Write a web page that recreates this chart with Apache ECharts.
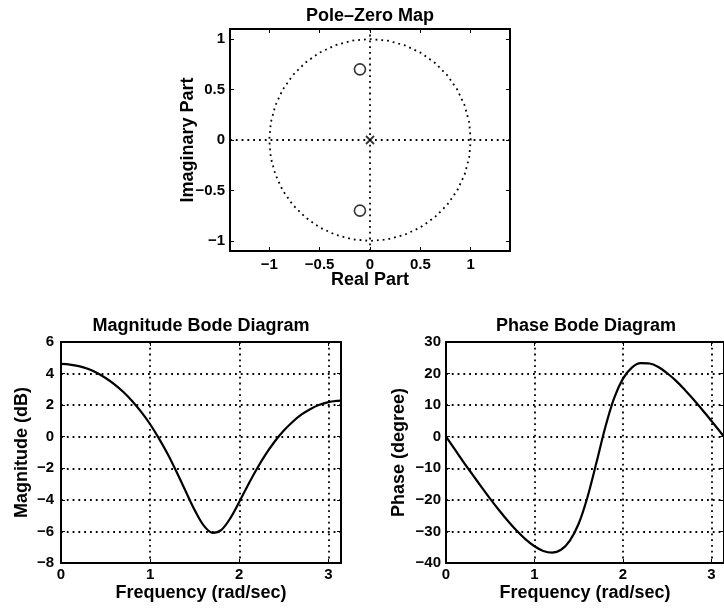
<!DOCTYPE html>
<html>
<head>
<meta charset="utf-8">
<script src="https://cdn.jsdelivr.net/npm/echarts@6/dist/echarts.min.js"></script>
<style>
html,body{margin:0;padding:0;background:#fff;}
#chart{width:724px;height:610px;}
</style>
</head>
<body>
<div id="chart"></div>
<script>
// ---- Data ----
const titles = ['Pole\u2013Zero Map', 'Magnitude Bode Diagram', 'Phase Bode Diagram'];
const xNames = ['Real Part', 'Frequency (rad/sec)', 'Frequency (rad/sec)'];
const yNames = ['Imaginary Part', 'Magnitude (dB)', 'Phase (degree)'];

const pzTicks = [-1, -0.5, 0, 0.5, 1];
const zerosRe = [-0.1, -0.1];
const zerosIm = [0.7, -0.7];
const polesRe = [0];
const polesIm = [0];
const unitCircleRe = [1, 0.9848, 0.9397, 0.866, 0.766, 0.6428, 0.5, 0.342, 0.1736, 0, -0.1736, -0.342, -0.5, -0.6428, -0.766, -0.866, -0.9397, -0.9848, -1, -0.9848, -0.9397, -0.866, -0.766, -0.6428, -0.5, -0.342, -0.1736, 0, 0.1736, 0.342, 0.5, 0.6428, 0.766, 0.866, 0.9397, 0.9848, 1];
const unitCircleIm = [0, 0.1736, 0.342, 0.5, 0.6428, 0.766, 0.866, 0.9397, 0.9848, 1, 0.9848, 0.9397, 0.866, 0.766, 0.6428, 0.5, 0.342, 0.1736, 0, -0.1736, -0.342, -0.5, -0.6428, -0.766, -0.866, -0.9397, -0.9848, -1, -0.9848, -0.9397, -0.866, -0.766, -0.6428, -0.5, -0.342, -0.1736, 0];

const freq = [0, 0.1, 0.2, 0.3, 0.4, 0.5, 0.6, 0.7, 0.8, 0.9, 1.0, 1.1, 1.2, 1.3, 1.4, 1.5, 1.6, 1.7, 1.8, 1.9, 2.0, 2.1, 2.2, 2.3, 2.4, 2.5, 2.6, 2.7, 2.8, 2.9, 3.0, 3.1, 3.1416];
const magnitudeDb = [4.61, 4.57, 4.47, 4.30, 4.05, 3.72, 3.32, 2.83, 2.25, 1.57, 0.79, -0.12, -1.13, -2.27, -3.47, -4.65, -5.62, -6.09, -5.90, -5.16, -4.13, -3.04, -2.01, -1.09, -0.29, 0.39, 0.95, 1.41, 1.76, 2.02, 2.19, 2.27, 2.28];
const phaseDeg = [0, -4.0, -8.1, -12.0, -15.9, -19.7, -23.3, -26.7, -29.8, -32.5, -34.7, -36.2, -36.7, -35.8, -32.9, -27.5, -19.0, -8.2, 3.0, 12.2, 18.4, 21.9, 23.3, 23.2, 22.1, 20.1, 17.7, 14.8, 11.7, 8.4, 5.0, 1.5, 0];

// ---- Layout ----
const FONT = "'Liberation Sans', Arial, Helvetica, sans-serif";
const grids = [
  {left: 230, top: 29, width: 280, height: 222},
  {left: 61, top: 342, width: 280, height: 221},
  {left: 446, top: 342, width: 280, height: 221}
];
const xRanges = [[-1.39, 1.39], [0, Math.PI], [0, Math.PI]];
const yRanges = [[-1.1, 1.1], [-8, 6], [-40, 30]];
const xIntervals = [null, 1, 1];
const yIntervals = [null, 2, 10];
const xLabelMargin = [6, 4, 4];
const yLabelMargin = [5, 7, 5];
const xNameGap = [20, 21, 21];
const yNameGap = [33, 29.5, 38];

const fmt = v => String(v).replace('-', '\u2212');
const dotted = {type: [1.8, 4], color: '#000', width: 1.8};

const xAxes = [], yAxes = [];
for (let i = 0; i < 3; i++) {
  const xa = {
    type: 'value', gridIndex: i, position: 'bottom',
    min: xRanges[i][0], max: xRanges[i][1],
    name: xNames[i], nameLocation: 'middle', nameGap: xNameGap[i], nameMoveOverlap: false,
    nameTextStyle: {fontFamily: FONT, fontWeight: 'bold', fontSize: 18, color: '#000'},
    axisLine: {show: true, onZero: false, lineStyle: {color: '#000', width: 2}},
    axisTick: {show: true, inside: true, length: 4, lineStyle: {color: '#000', width: 1}},
    axisLabel: {show: true, margin: xLabelMargin[i], fontFamily: FONT, fontWeight: 'bold', fontSize: 15, color: '#000', formatter: fmt, showMaxLabel: false},
    splitLine: {show: i > 0, lineStyle: dotted}
  };
  const ya = {
    type: 'value', gridIndex: i, position: 'left',
    min: yRanges[i][0], max: yRanges[i][1],
    name: yNames[i], nameLocation: 'middle', nameGap: yNameGap[i], nameMoveOverlap: false,
    nameTextStyle: {fontFamily: FONT, fontWeight: 'bold', fontSize: 18, color: '#000'},
    axisLine: {show: true, onZero: false, lineStyle: {color: '#000', width: 2}},
    axisTick: {show: true, inside: true, length: 4, lineStyle: {color: '#000', width: 1}},
    axisLabel: {show: true, margin: yLabelMargin[i], fontFamily: FONT, fontWeight: 'bold', fontSize: 15, color: '#000', formatter: fmt},
    splitLine: {show: i > 0, lineStyle: dotted}
  };
  if (xIntervals[i]) { xa.interval = xIntervals[i]; } else {
    xa.axisLabel.customValues = pzTicks; xa.axisTick.customValues = pzTicks; xa.axisLabel.showMaxLabel = true;
  }
  if (yIntervals[i]) { ya.interval = yIntervals[i]; } else {
    ya.axisLabel.customValues = pzTicks; ya.axisTick.customValues = pzTicks;
  }
  xAxes.push(xa); yAxes.push(ya);
}
// mirrored box axes (top / right) with inward ticks
for (let i = 0; i < 3; i++) {
  const xt = {
    type: 'value', gridIndex: i, position: 'top',
    min: xRanges[i][0], max: xRanges[i][1],
    axisLine: {show: true, onZero: false, lineStyle: {color: '#000', width: 2}},
    axisTick: {show: true, inside: true, length: 4, lineStyle: {color: '#000', width: 1}},
    axisLabel: {show: false}, splitLine: {show: false}
  };
  const yr = {
    type: 'value', gridIndex: i, position: 'right',
    min: yRanges[i][0], max: yRanges[i][1],
    axisLine: {show: true, onZero: false, lineStyle: {color: '#000', width: 2}},
    axisTick: {show: true, inside: true, length: 4, lineStyle: {color: '#000', width: 1}},
    axisLabel: {show: false}, splitLine: {show: false}
  };
  if (xIntervals[i]) xt.interval = xIntervals[i]; else xt.axisTick.customValues = pzTicks;
  if (yIntervals[i]) yr.interval = yIntervals[i]; else yr.axisTick.customValues = pzTicks;
  xAxes.push(xt); yAxes.push(yr);
}

const titleCenters = [370, 201, 586];
const titleTops = [7, 317, 317];

const option = {
  animation: false,
  backgroundColor: '#fff',
  title: titles.map((t, i) => ({
    text: t, left: titleCenters[i], top: titleTops[i], textAlign: 'center', padding: 0,
    textStyle: {fontFamily: FONT, fontWeight: 'bold', fontSize: 18, color: '#000'}
  })),
  grid: grids,
  xAxis: xAxes,
  yAxis: yAxes,
  series: [
    {
      type: 'line', xAxisIndex: 0, yAxisIndex: 0, silent: true,
      data: unitCircleRe.map((x, k) => [x, unitCircleIm[k]]),
      showSymbol: false, lineStyle: dotted,
      markLine: {
        silent: true, symbol: 'none', label: {show: false},
        lineStyle: dotted,
        data: [{xAxis: 0}, {yAxis: 0}]
      }
    },
    {
      type: 'scatter', xAxisIndex: 0, yAxisIndex: 0, silent: true,
      data: zerosRe.map((x, k) => [x, zerosIm[k]]),
      symbol: 'circle', symbolSize: 11,
      itemStyle: {color: 'transparent', borderColor: '#000', borderWidth: 1.6}
    },
    {
      type: 'scatter', xAxisIndex: 0, yAxisIndex: 0, silent: true,
      data: polesRe.map((x, k) => [x, polesIm[k]]),
      symbol: 'path://M0,0L10,10M10,0L0,10', symbolSize: 8,
      itemStyle: {color: 'transparent', borderColor: '#000', borderWidth: 1.8}
    },
    {
      type: 'line', xAxisIndex: 1, yAxisIndex: 1, silent: true,
      data: freq.map((f, k) => [f, magnitudeDb[k]]),
      showSymbol: false, smooth: 0.3,
      lineStyle: {color: '#000', width: 2.2}
    },
    {
      type: 'line', xAxisIndex: 2, yAxisIndex: 2, silent: true,
      data: freq.map((f, k) => [f, phaseDeg[k]]),
      showSymbol: false, smooth: 0.3,
      lineStyle: {color: '#000', width: 2.2}
    }
  ]
};

const chart = echarts.init(document.getElementById('chart'), null, {renderer: 'canvas'});
chart.setOption(option);
</script>
</body>
</html>
